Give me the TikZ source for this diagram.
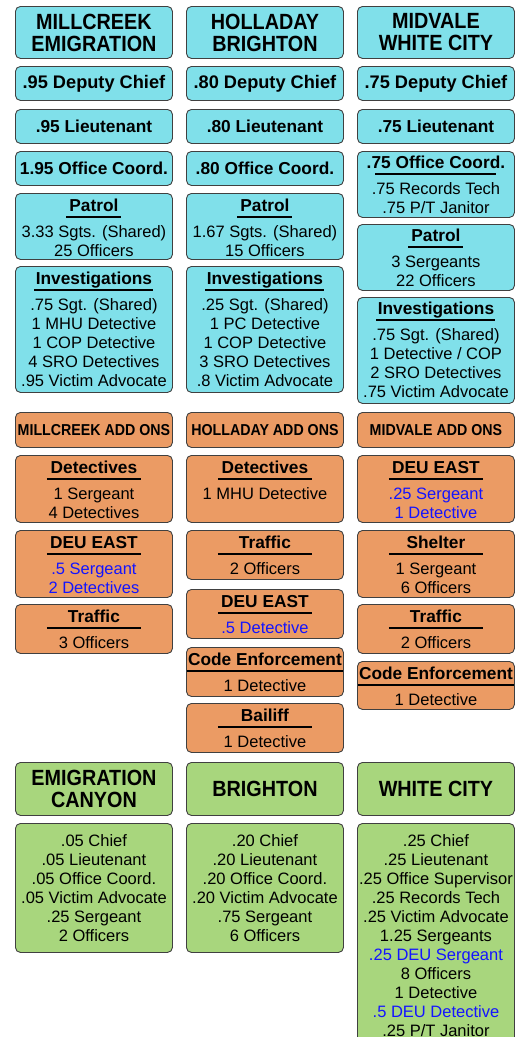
\documentclass[tikz,border=0pt]{standalone}
\usepackage{fontspec}
\setmainfont{Liberation Sans}
\newfontfamily\narrowsans[FakeStretch=0.9]{Liberation Sans}
\usepackage{tikz}
\usetikzlibrary{calc}
\definecolor{cityblue}{RGB}{128,224,234}
\definecolor{addorange}{RGB}{235,155,100}
\definecolor{towngreen}{RGB}{168,214,125}
\definecolor{deublue}{RGB}{20,20,255}
\tikzstyle{cell}=[draw=black!75,line width=0.9pt,rounded corners=5pt,inner sep=0pt,anchor=north west]
\tikzstyle{citycell}=[cell,fill=cityblue]
\tikzstyle{addcell}=[cell,fill=addorange]
\tikzstyle{towncell}=[cell,fill=towngreen]
\newcommand{\hdfont}{\narrowsans\fontsize{22}{22}\selectfont\bfseries}
\newcommand{\bigbold}{\fontsize{18.2}{20}\selectfont\bfseries}
\newcommand{\midbold}{\fontsize{17.3}{19}\selectfont\bfseries}
\newcommand{\addfont}{\narrowsans\fontsize{15.8}{16}\selectfont\bfseries}
% text of a box: height, first baseline, lines
\newcommand{\toptxt}[3][18]{\parbox[t][#2pt][t]{157pt}{\fontsize{16.5}{19}\selectfont\centering\rule{0pt}{#1pt}#3}}
\newcommand{\midtxt}[2]{\parbox[c][#1pt][c]{157pt}{\centering #2}}
\newcommand{\ttl}[2]{{\midbold #2}\\[-12pt]\rule{#1pt}{2pt}\\}
\newcommand{\deu}[1]{\textcolor{deublue}{#1}}

\begin{document}
\begin{tikzpicture}[x=1pt,y=-1pt]
    \useasboundingbox (0,0) rectangle (519,1037);
    % First the precinct rows
    \foreach \x/\name/\txt in {15/mc/{MILLCREEK\\EMIGRATION},186/ho/{HOLLADAY\\BRIGHTON},357/mv/{MIDVALE\\WHITE CITY}}
        \node[citycell] (\name-head) at (\x,6) {\midtxt{52}{\hdfont \txt}};
    \foreach \x/\name/\amt in {15/mc/.95,186/ho/.80,357/mv/.75}
        \node[citycell] (\name-dep) at (\x,66) {\midtxt{34}{\bigbold \amt\ Deputy Chief}};
    \foreach \x/\name/\amt in {15/mc/.95,186/ho/.80,357/mv/.75}
        \node[citycell] (\name-lt) at (\x,109) {\midtxt{34}{\midbold \amt\ Lieutenant}};
    \foreach \x/\name/\amt in {15/mc/1.95,186/ho/.80}
        \node[citycell] (\name-office) at (\x,151) {\midtxt{34}{\midbold \amt\ Office Coord.}};
    \node[citycell] (mv-office) at (357,151) {\toptxt[17]{66}{\ttl{121}{.75 Office Coord.}.75 Records Tech\\.75 P/T Janitor}};

    % patrol and investigations
    \node[citycell] (mc-patrol) at (15,193) {\toptxt{66}{\ttl{55}{Patrol}3.33 Sgts. (Shared)\\25 Officers}};
    \node[citycell] (ho-patrol) at (186,193) {\toptxt{66}{\ttl{55}{Patrol}1.67 Sgts. (Shared)\\15 Officers}};
    \node[citycell] (mv-patrol) at (357,224) {\toptxt[17]{66}{\ttl{55}{Patrol}3 Sergeants\\22 Officers}};
    \node[citycell] (mc-inv) at (15,266) {\toptxt{126}{\ttl{119}{Investigations}.75 Sgt. (Shared)\\1 MHU Detective\\1 COP Detective\\4 SRO Detectives\\.95 Victim Advocate}};
    \node[citycell] (ho-inv) at (186,266) {\toptxt{126}{\ttl{119}{Investigations}.25 Sgt. (Shared)\\1 PC Detective\\1 COP Detective\\3 SRO Detectives\\.8 Victim Advocate}};
    \node[citycell] (mv-inv) at (357,297) {\toptxt[17]{106}{\ttl{119}{Investigations}.75 Sgt. (Shared)\\1 Detective / COP\\2 SRO Detectives\\.75 Victim Advocate}};

    % Then the add ons
    \foreach \x/\name/\txt in {15/mc/MILLCREEK,186/ho/HOLLADAY,357/mv/MIDVALE}
        \node[addcell] (\name-add) at (\x,412) {\midtxt{35}{\addfont \txt\ ADD ONS}};
    \node[addcell] (mc-det) at (15,455) {\toptxt{67}{\ttl{94}{Detectives}1 Sergeant\\4 Detectives}};
    \node[addcell] (mc-deu) at (15,530) {\toptxt{67}{\ttl{94}{DEU EAST}\deu{.5 Sergeant}\\\deu{2 Detectives}}};
    \node[addcell] (mc-traffic) at (15,604) {\toptxt{49}{\ttl{94}{Traffic}3 Officers}};
    \node[addcell] (ho-det) at (186,455) {\toptxt{67}{\ttl{94}{Detectives}1 MHU Detective}};
    \node[addcell] (ho-traffic) at (186,530) {\toptxt{49}{\ttl{94}{Traffic}2 Officers}};
    \node[addcell] (ho-deu) at (186,589) {\toptxt{49}{\ttl{94}{DEU EAST}\deu{.5 Detective}}};
    \node[addcell] (ho-code) at (186,647) {\toptxt{49}{\ttl{156}{Code Enforcement}1 Detective}};
    \node[addcell] (ho-bailiff) at (186,703) {\toptxt{49}{\ttl{94}{Bailiff}1 Detective}};
    \node[addcell] (mv-deu) at (357,455) {\toptxt{67}{\ttl{94}{DEU EAST}\deu{.25 Sergeant}\\\deu{1 Detective}}};
    \node[addcell] (mv-shelter) at (357,530) {\toptxt{67}{\ttl{94}{Shelter}1 Sergeant\\6 Officers}};
    \node[addcell] (mv-traffic) at (357,604) {\toptxt{49}{\ttl{94}{Traffic}2 Officers}};
    \node[addcell] (mv-code) at (357,661) {\toptxt{48}{\ttl{156}{Code Enforcement}1 Detective}};

    % contract areas
    \foreach \x/\name/\txt in {15/ec/{EMIGRATION\\CANYON},186/br/BRIGHTON,357/wc/WHITE CITY}
        \node[towncell] (\name-head) at (\x,762) {\midtxt{53}{\hdfont \txt}};
    \node[towncell] (ec-staff) at (15,823) {\toptxt[23]{129}{.05 Chief\\.05 Lieutenant\\.05 Office Coord.\\.05 Victim Advocate\\.25 Sergeant\\2 Officers}};
    \node[towncell] (br-staff) at (186,823) {\toptxt[23]{129}{.20 Chief\\.20 Lieutenant\\.20 Office Coord.\\.20 Victim Advocate\\.75 Sergeant\\6 Officers}};
    \node[towncell] (wc-staff) at (357,823) {\toptxt[23]{226}{.25 Chief\\.25 Lieutenant\\.25 Office Supervisor\\.25 Records Tech\\.25 Victim Advocate\\1.25 Sergeants\\\deu{.25 DEU Sergeant}\\8 Officers\\1 Detective\\\deu{.5 DEU Detective}\\.25 P/T Janitor}};
\end{tikzpicture}
\end{document}
